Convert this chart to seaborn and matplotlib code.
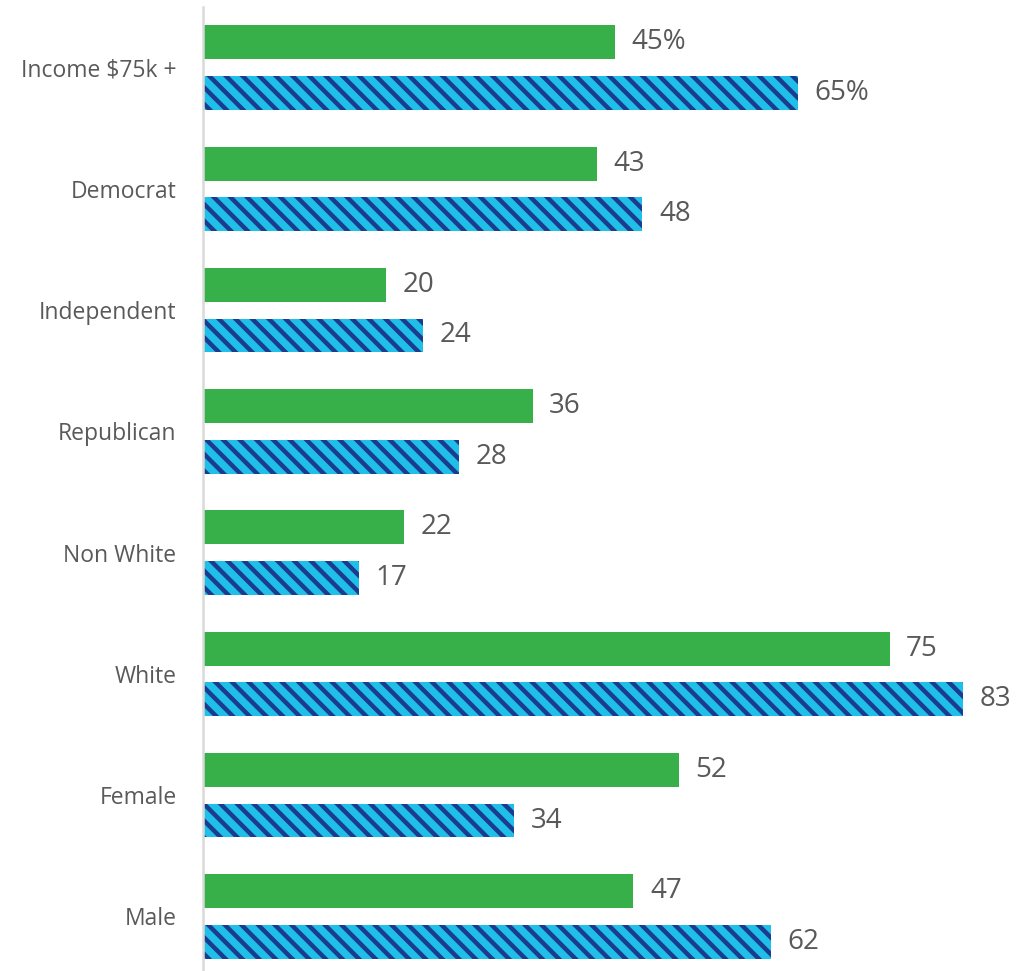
import matplotlib
matplotlib.use("Agg")
import matplotlib.pyplot as plt
import seaborn as sns
import pandas as pd

categories = ["Income $75k +", "Democrat", "Independent", "Republican",
              "Non White", "White", "Female", "Male"]
series_a = [45, 43, 20, 36, 22, 75, 52, 47]
series_b = [65, 48, 24, 28, 17, 83, 34, 62]
series_names = ["Series A", "Series B"]

df = pd.DataFrame({
    "category": categories * 2,
    "value": series_a + series_b,
    "series": [series_names[0]] * len(categories) + [series_names[1]] * len(categories),
})

sns.set_theme(style="white")
plt.rcParams["font.family"] = ["Open Sans", "DejaVu Sans"]
plt.rcParams["hatch.linewidth"] = 3.2
plt.rcParams["hatch.color"] = "#1B3C8C"

fig = plt.figure(figsize=(10.25, 9.71), dpi=100)
ax = fig.add_axes([203 / 1025, 0.0, (1025 - 203) / 1025, (971 - 7) / 971])

sns.barplot(data=df, y="category", x="value", hue="series", order=categories,
            hue_order=series_names, palette=["#38B04A", "#1FBFEA"],
            saturation=1, orient="h", width=0.836, gap=0.33, legend=False, ax=ax,
            edgecolor="none", linewidth=0)

for bar in ax.containers[1]:
    bar.set_hatch("\\\\")
    bar.set_edgecolor("#1B3C8C")
    bar.set_linewidth(0)

for i, cont in enumerate(ax.containers):
    vals = series_a if i == 0 else series_b
    labels = [f"{v}%" if j == 0 else f"{v}" for j, v in enumerate(vals)]
    ax.bar_label(cont, labels=labels, padding=12, fontsize=20, color="#595959")

ax.set_xlim(0, 89.8)
ax.set_ylim(7.45, -0.5)
ax.set_xlabel("")
ax.set_ylabel("")
ax.set_xticks([])
ax.tick_params(axis="y", length=0, pad=19, labelsize=16.5, labelcolor="#595959")
for s in ["top", "right", "bottom"]:
    ax.spines[s].set_visible(False)
ax.spines["left"].set_color("#D9D9D9")
ax.spines["left"].set_linewidth(1.8)

fig.savefig("out.png", dpi=100)
